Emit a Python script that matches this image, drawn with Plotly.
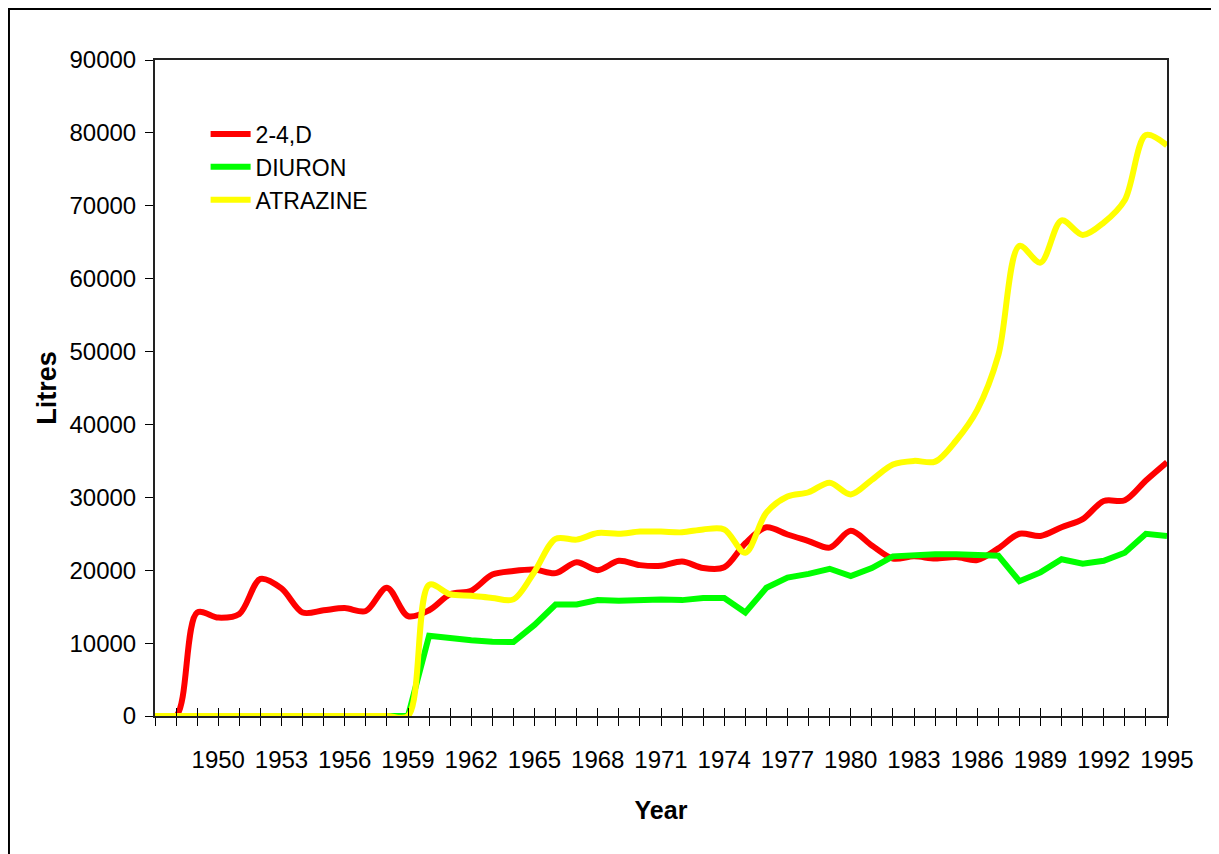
import plotly.graph_objects as go

years = [1947, 1948, 1949, 1950, 1951, 1952, 1953, 1954, 1955, 1956, 1957, 1958, 1959,
         1960, 1961, 1962, 1963, 1964, 1965, 1966, 1967, 1968, 1969, 1970, 1971, 1972,
         1973, 1974, 1975, 1976, 1977, 1978, 1979, 1980, 1981, 1982, 1983, 1984, 1985,
         1986, 1987, 1988, 1989, 1990, 1991, 1992, 1993, 1994, 1995]

d24 = [0, 0, 14200, 13500, 14000, 18800, 17500, 14200, 14500, 14800, 14400, 17600, 13700,
       14500, 16700, 17200, 19400, 19900, 20100, 19600, 21100, 20000, 21300, 20700, 20600, 21200,
       20300, 20400, 23700, 25900, 24900, 24000, 23100, 25400, 23400, 21600, 21900, 21600, 21800,
       21400, 23000, 25000, 24700, 25900, 27000, 29500, 29600, 32300, 34800]

diuron = [0, 0, 0, 0, 0, 0, 0, 0, 0, 0, 0, 0, 0,
          11000, 10600, 10400, 10200, 10150, 12500, 15300, 15300, 15900, 15800, 16000, 16000, 15900,
          16200, 16200, 14200, 17600, 19000, 19500, 20200, 19200, 20300, 21900, 22100, 22200, 22200,
          22200, 22000, 18500, 19700, 21500, 20900, 21300, 22400, 25000, 24700]

atrazine = [0, 0, 0, 0, 0, 0, 0, 0, 0, 0, 0, 0, 0,
            18000, 16700, 16500, 16200, 16000, 19800, 24300, 24200, 25100, 25000, 25300, 25300, 25200,
            25600, 25600, 22400, 27900, 30100, 30700, 32000, 30400, 32400, 34500, 35000, 34900, 37800,
            42000, 49500, 64500, 62200, 68000, 66000, 67700, 70800, 79700, 78300]

label_years = [1950, 1953, 1956, 1959, 1962, 1965, 1968, 1971, 1974, 1977, 1980, 1983,
               1986, 1989, 1992, 1995]
y_ticks = [0, 10000, 20000, 30000, 40000, 50000, 60000, 70000, 80000, 90000]
y_labels = ["0", "10000", "20000", "30000", "40000", "50000", "60000", "70000", "80000", "90000"]

FONT = "Liberation Sans, Arial, sans-serif"

fig = go.Figure()
fig.add_trace(go.Scatter(x=years, y=d24, name="2-4,D", mode="lines",
                         line=dict(color="#FF0000", width=6, shape="spline", smoothing=0.9)))
fig.add_trace(go.Scatter(x=years, y=diuron, name="DIURON", mode="lines",
                         line=dict(color="#00FF00", width=6)))
fig.add_trace(go.Scatter(x=years, y=atrazine, name="ATRAZINE", mode="lines",
                         line=dict(color="#FFFF00", width=6, shape="spline", smoothing=0.9)))

ticktext = [str(y) if y in label_years else "" for y in years]

fig.update_layout(
    width=1211, height=846,
    margin=dict(l=147, r=52, t=52, b=138, autoexpand=False),
    paper_bgcolor="white", plot_bgcolor="white",
    font=dict(family=FONT, size=24, color="black"),
    showlegend=True,
    legend=dict(x=0.05, y=0.92, xanchor="left", yanchor="top",
                bgcolor="rgba(0,0,0,0)", font=dict(family=FONT, size=23),
                tracegroupgap=0, itemwidth=40),
    xaxis=dict(range=[1947, 1995], tickmode="array", tickvals=years, ticktext=ticktext,
               tickangle=0, automargin=False, ticklabeloverflow="allow",
               ticks="outside", ticklen=8, tickcolor="black", tickwidth=1,
               showline=True, linecolor="#222222", linewidth=2, mirror=True,
               showgrid=False, zeroline=False, ticklabelstandoff=13,
               title=dict(text="<b>Year</b>", font=dict(family=FONT, size=25), standoff=30)),
    xaxis2=dict(range=[1947, 1995], overlaying="x", anchor="y", side="bottom",
                tickmode="array", tickvals=years, ticks="inside", ticklen=8,
                tickcolor="black", tickwidth=1, showticklabels=False, automargin=False,
                showline=False, showgrid=False, zeroline=False),
    yaxis=dict(range=[0, 90000], tickmode="array", tickvals=y_ticks, ticktext=y_labels,
               automargin=False,
               ticks="outside", ticklen=8, tickcolor="black", tickwidth=1,
               showline=True, linecolor="#222222", linewidth=2, mirror=True,
               showgrid=False, zeroline=False, ticklabelstandoff=4,
               title=dict(text="<b>Litres</b>", font=dict(family=FONT, size=27), standoff=5)),
    shapes=[dict(type="rect", xref="paper", yref="paper",
                 x0=-0.1443, x1=1.07, y0=-0.23, y1=1.0777,
                 line=dict(color="black", width=2), fillcolor="rgba(0,0,0,0)", layer="below")],
)
# invisible trace to activate xaxis2 (crossing tick marks)
fig.add_trace(go.Scatter(x=[1947], y=[0], xaxis="x2", mode="markers",
                         marker=dict(opacity=0), showlegend=False, hoverinfo="skip"))

fig.write_html("out.html")
